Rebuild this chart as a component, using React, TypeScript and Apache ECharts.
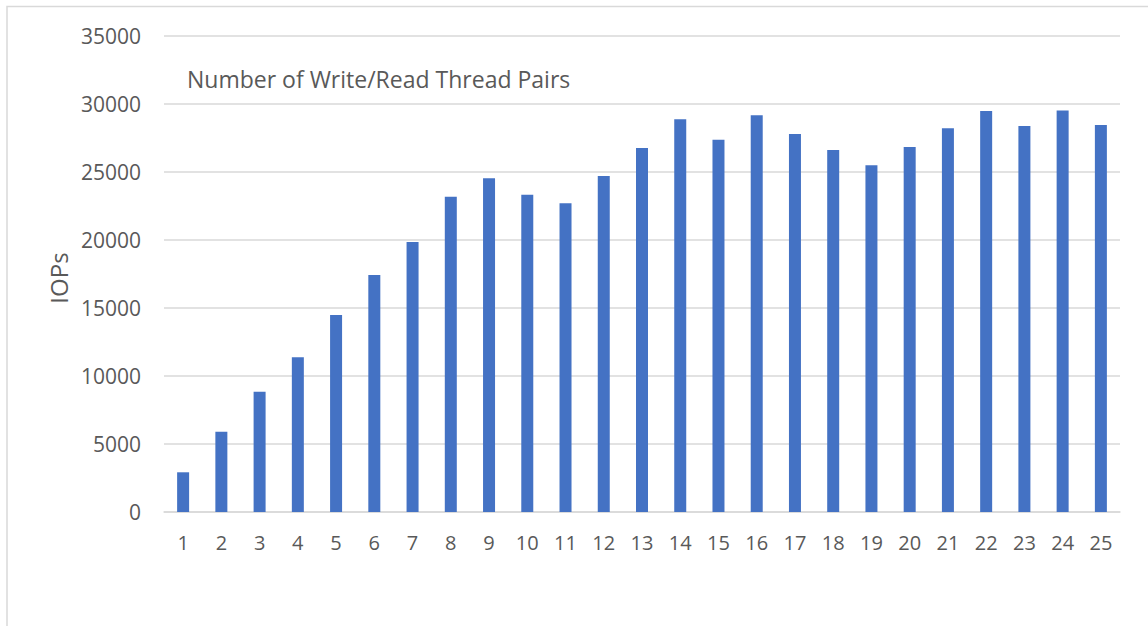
import React, { useEffect, useRef } from "react";
import * as echarts from "echarts";

const categories: string[] = [
  "1", "2", "3", "4", "5", "6", "7", "8", "9", "10", "11", "12", "13",
  "14", "15", "16", "17", "18", "19", "20", "21", "22", "23", "24", "25",
];
const iops: number[] = [
  2920, 5900, 8850, 11370, 14480, 17430, 19850, 23180, 24540, 23330, 22700, 24710, 26760,
  28870, 27380, 29170, 27790, 26620, 25490, 26840, 28210, 29490, 28380, 29530, 28460,
];
const xAxisTitle = "Number of Write/Read Thread Pairs";
const yAxisTitle = "IOPs";

const FONT = "'Open Sans', 'Noto Sans', sans-serif";
const TEXT = "#595959";

export default function App() {
  const ref = useRef<HTMLDivElement>(null);
  useEffect(() => {
    if (!ref.current) return;
    const chart = echarts.init(ref.current, null, { renderer: "svg" });
    chart.setOption({
      animation: false,
      backgroundColor: "#ffffff",
      textStyle: { fontFamily: FONT },
      graphic: [
        {
          type: "rect",
          shape: { x: 7, y: 6.5, width: 1300, height: 800 },
          style: { fill: "none", stroke: "#d9d9d9", lineWidth: 1.5 },
          silent: true,
        },
        {
          type: "text",
          x: 187,
          y: 79,
          style: {
            text: xAxisTitle,
            fontSize: 23,
            fill: TEXT,
            fontFamily: FONT,
            align: "left",
            verticalAlign: "middle",
          },
        },
        {
          type: "text",
          x: 58,
          y: 278,
          rotation: Math.PI / 2,
          style: {
            text: yAxisTitle,
            fontSize: 24,
            fill: TEXT,
            fontFamily: FONT,
            align: "center",
            verticalAlign: "middle",
          },
        },
      ],
      grid: { left: 164, right: 28, top: 36, bottom: 114, containLabel: false },
      xAxis: {
        type: "category",
        data: categories,
        axisLine: { show: true, lineStyle: { color: "#d9d9d9", width: 1.5 } },
        axisTick: { show: false },
        axisLabel: { color: TEXT, fontSize: 20, fontFamily: FONT, margin: 20 },
      },
      yAxis: {
        type: "value",
        min: 0,
        max: 35000,
        interval: 5000,
        axisLine: { show: false },
        axisTick: { show: false },
        axisLabel: {
          color: TEXT,
          fontSize: 21,
          fontFamily: FONT,
          margin: 23,
          formatter: (v: number) => String(v),
        },
        splitLine: { lineStyle: { color: "#d9d9d9", width: 1.5 } },
      },
      series: [
        {
          type: "bar",
          data: iops,
          barWidth: 12,
          itemStyle: { color: "#4472C4" },
        },
      ],
    });
    return () => chart.dispose();
  }, []);
  return (
    <div
      ref={ref}
      style={{ position: "fixed", left: 0, top: 0, width: 1148, height: 626 }}
    />
  );
}
